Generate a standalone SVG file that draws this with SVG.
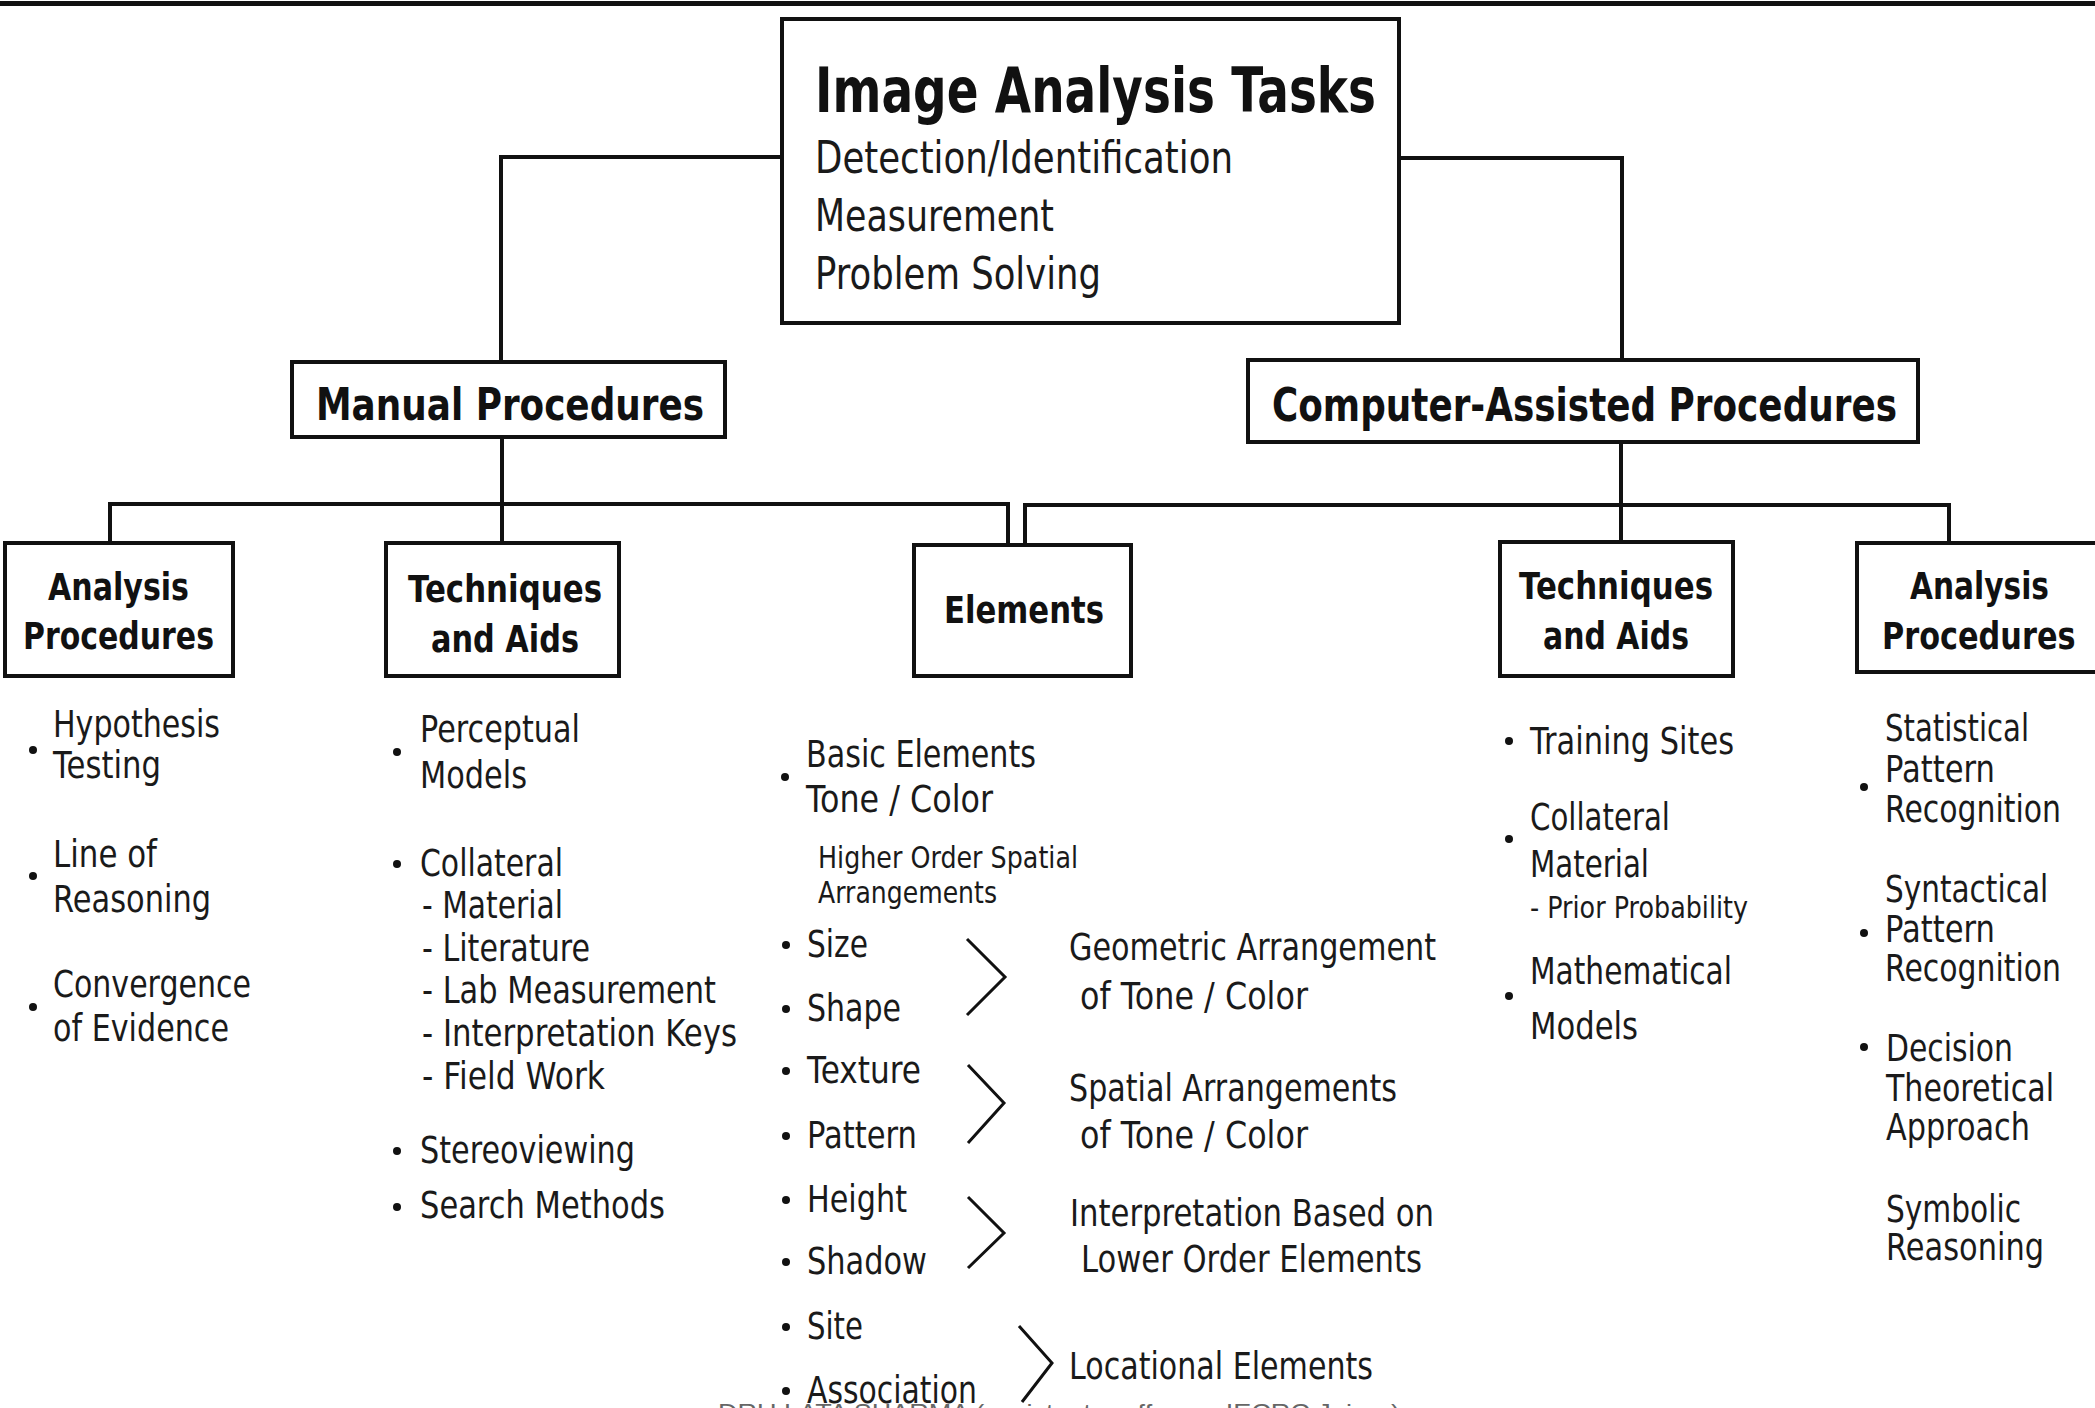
<svg xmlns="http://www.w3.org/2000/svg" width="2095" height="1408" viewBox="0 0 2095 1408">
<style>
.box{fill:#fff;stroke:#111;stroke-width:4}
.ln{fill:none;stroke:#111;stroke-width:4}
.br{fill:none;stroke:#111;stroke-width:3}
.b{font-family:"DejaVu Sans","Liberation Sans",sans-serif;font-weight:bold;fill:#111}
.t{font-family:"DejaVu Sans","Liberation Sans",sans-serif;fill:#1a1a1a}
.dot{fill:#111}
.ft{font-family:"Liberation Sans",Arial,sans-serif;fill:#666;font-size:24px}
</style>
<rect width="2095" height="1408" fill="#fff"/>
<rect x="0" y="1" width="2095" height="5" fill="#111"/>

<g id="connectors">
<polyline class="ln" points="780,157 501,157 501,360"/>
<polyline class="ln" points="1401,158 1622,158 1622,358"/>
<line class="ln" x1="502" y1="439" x2="502" y2="541"/>
<polyline class="ln" points="110,541 110,504 1008,504 1008,543"/>
<line class="ln" x1="1621" y1="444" x2="1621" y2="540"/>
<polyline class="ln" points="1025,543 1025,505 1949,505 1949,543"/>
</g>

<g id="top">
<rect class="box" x="782" y="19" width="617" height="304"/>
<text class="b" x="815" y="112" font-size="62" textLength="561" lengthAdjust="spacingAndGlyphs">Image Analysis Tasks</text>
<text class="t" x="815" y="173" font-size="44" textLength="418" lengthAdjust="spacingAndGlyphs">Detection/Identification</text>
<text class="t" x="815" y="231" font-size="44" textLength="239" lengthAdjust="spacingAndGlyphs">Measurement</text>
<text class="t" x="815" y="289" font-size="44" textLength="286" lengthAdjust="spacingAndGlyphs">Problem Solving</text>
</g>

<g id="manual">
<rect class="box" x="292" y="362" width="433" height="75"/>
<text class="b" x="316" y="420" font-size="45" textLength="388" lengthAdjust="spacingAndGlyphs">Manual Procedures</text>
</g>

<g id="computer">
<rect class="box" x="1248" y="360" width="670" height="82"/>
<text class="b" x="1272" y="421" font-size="46" textLength="625" lengthAdjust="spacingAndGlyphs">Computer-Assisted Procedures</text>
</g>

<g id="m-analysis">
<rect class="box" x="5" y="543" width="228" height="133"/>
<text class="b" x="48" y="600" font-size="37" textLength="141" lengthAdjust="spacingAndGlyphs">Analysis</text>
<text class="b" x="23" y="649" font-size="37" textLength="191" lengthAdjust="spacingAndGlyphs">Procedures</text>
<circle class="dot" cx="33" cy="750" r="4"/>
<text class="t" x="53" y="737" font-size="37" textLength="167" lengthAdjust="spacingAndGlyphs">Hypothesis</text>
<text class="t" x="53" y="778" font-size="37" textLength="108" lengthAdjust="spacingAndGlyphs">Testing</text>
<circle class="dot" cx="33" cy="876" r="4"/>
<text class="t" x="53" y="867" font-size="37" textLength="104" lengthAdjust="spacingAndGlyphs">Line of</text>
<text class="t" x="53" y="912" font-size="37" textLength="158" lengthAdjust="spacingAndGlyphs">Reasoning</text>
<circle class="dot" cx="33" cy="1007" r="4"/>
<text class="t" x="53" y="997" font-size="37" textLength="198" lengthAdjust="spacingAndGlyphs">Convergence</text>
<text class="t" x="53" y="1041" font-size="37" textLength="176" lengthAdjust="spacingAndGlyphs">of Evidence</text>
</g>

<g id="m-techniques">
<rect class="box" x="386" y="543" width="233" height="133"/>
<text class="b" x="408" y="602" font-size="37" textLength="194" lengthAdjust="spacingAndGlyphs">Techniques</text>
<text class="b" x="431" y="652" font-size="37" textLength="148" lengthAdjust="spacingAndGlyphs">and Aids</text>
<circle class="dot" cx="397" cy="752" r="4"/>
<text class="t" x="420" y="742" font-size="37" textLength="160" lengthAdjust="spacingAndGlyphs">Perceptual</text>
<text class="t" x="420" y="788" font-size="37" textLength="107" lengthAdjust="spacingAndGlyphs">Models</text>
<circle class="dot" cx="397" cy="864" r="4"/>
<text class="t" x="420" y="876" font-size="37" textLength="143" lengthAdjust="spacingAndGlyphs">Collateral</text>
<text class="t" x="422" y="918" font-size="37" textLength="141" lengthAdjust="spacingAndGlyphs">- Material</text>
<text class="t" x="422" y="961" font-size="37" textLength="168" lengthAdjust="spacingAndGlyphs">- Literature</text>
<text class="t" x="422" y="1003" font-size="37" textLength="294" lengthAdjust="spacingAndGlyphs">- Lab Measurement</text>
<text class="t" x="422" y="1046" font-size="37" textLength="315" lengthAdjust="spacingAndGlyphs">- Interpretation Keys</text>
<text class="t" x="422" y="1089" font-size="37" textLength="183" lengthAdjust="spacingAndGlyphs">- Field Work</text>
<circle class="dot" cx="397" cy="1151" r="4"/>
<text class="t" x="420" y="1163" font-size="37" textLength="215" lengthAdjust="spacingAndGlyphs">Stereoviewing</text>
<circle class="dot" cx="397" cy="1207" r="4"/>
<text class="t" x="420" y="1218" font-size="37" textLength="245" lengthAdjust="spacingAndGlyphs">Search Methods</text>
</g>

<g id="elements">
<rect class="box" x="914" y="545" width="217" height="131"/>
<text class="b" x="944" y="623" font-size="37" textLength="160" lengthAdjust="spacingAndGlyphs">Elements</text>
<circle class="dot" cx="785" cy="777" r="4"/>
<text class="t" x="806" y="767" font-size="37" textLength="230" lengthAdjust="spacingAndGlyphs">Basic Elements</text>
<text class="t" x="806" y="812" font-size="37" textLength="187" lengthAdjust="spacingAndGlyphs">Tone / Color</text>
<text class="t" x="818" y="868" font-size="31" textLength="260" lengthAdjust="spacingAndGlyphs">Higher Order Spatial</text>
<text class="t" x="818" y="903" font-size="31" textLength="179" lengthAdjust="spacingAndGlyphs">Arrangements</text>
<circle class="dot" cx="786" cy="945" r="4"/>
<text class="t" x="807" y="957" font-size="37" textLength="61" lengthAdjust="spacingAndGlyphs">Size</text>
<circle class="dot" cx="786" cy="1009" r="4"/>
<text class="t" x="807" y="1021" font-size="37" textLength="94" lengthAdjust="spacingAndGlyphs">Shape</text>
<circle class="dot" cx="786" cy="1071" r="4"/>
<text class="t" x="807" y="1083" font-size="37" textLength="114" lengthAdjust="spacingAndGlyphs">Texture</text>
<circle class="dot" cx="786" cy="1136" r="4"/>
<text class="t" x="807" y="1148" font-size="37" textLength="110" lengthAdjust="spacingAndGlyphs">Pattern</text>
<circle class="dot" cx="786" cy="1200" r="4"/>
<text class="t" x="807" y="1212" font-size="37" textLength="100" lengthAdjust="spacingAndGlyphs">Height</text>
<circle class="dot" cx="786" cy="1262" r="4"/>
<text class="t" x="807" y="1274" font-size="37" textLength="120" lengthAdjust="spacingAndGlyphs">Shadow</text>
<circle class="dot" cx="786" cy="1327" r="4"/>
<text class="t" x="807" y="1339" font-size="37" textLength="56" lengthAdjust="spacingAndGlyphs">Site</text>
<circle class="dot" cx="786" cy="1391" r="4"/>
<text class="t" x="807" y="1403" font-size="37" textLength="170" lengthAdjust="spacingAndGlyphs">Association</text>
<polyline class="br" points="967,939 1005,977 967,1015"/>
<polyline class="br" points="968,1065 1004,1103 968,1143"/>
<polyline class="br" points="968,1197 1004,1233 968,1268"/>
<polyline class="br" points="1019,1326 1052,1363 1022,1402"/>
<text class="t" x="1069" y="960" font-size="37" textLength="367" lengthAdjust="spacingAndGlyphs">Geometric Arrangement</text>
<text class="t" x="1080" y="1009" font-size="37" textLength="228" lengthAdjust="spacingAndGlyphs">of Tone / Color</text>
<text class="t" x="1069" y="1101" font-size="37" textLength="328" lengthAdjust="spacingAndGlyphs">Spatial Arrangements</text>
<text class="t" x="1080" y="1148" font-size="37" textLength="228" lengthAdjust="spacingAndGlyphs">of Tone / Color</text>
<text class="t" x="1070" y="1226" font-size="37" textLength="364" lengthAdjust="spacingAndGlyphs">Interpretation Based on</text>
<text class="t" x="1081" y="1272" font-size="37" textLength="341" lengthAdjust="spacingAndGlyphs">Lower Order Elements</text>
<text class="t" x="1069" y="1379" font-size="37" textLength="304" lengthAdjust="spacingAndGlyphs">Locational Elements</text>
</g>

<g id="c-techniques">
<rect class="box" x="1500" y="542" width="233" height="134"/>
<text class="b" x="1519" y="599" font-size="37" textLength="194" lengthAdjust="spacingAndGlyphs">Techniques</text>
<text class="b" x="1543" y="649" font-size="37" textLength="146" lengthAdjust="spacingAndGlyphs">and Aids</text>
<circle class="dot" cx="1509" cy="741" r="4"/>
<text class="t" x="1530" y="754" font-size="37" textLength="204" lengthAdjust="spacingAndGlyphs">Training Sites</text>
<circle class="dot" cx="1509" cy="839" r="4"/>
<text class="t" x="1530" y="830" font-size="37" textLength="140" lengthAdjust="spacingAndGlyphs">Collateral</text>
<text class="t" x="1530" y="877" font-size="37" textLength="119" lengthAdjust="spacingAndGlyphs">Material</text>
<text class="t" x="1530" y="918" font-size="31" textLength="218" lengthAdjust="spacingAndGlyphs">- Prior Probability</text>
<circle class="dot" cx="1509" cy="996" r="4"/>
<text class="t" x="1530" y="984" font-size="37" textLength="202" lengthAdjust="spacingAndGlyphs">Mathematical</text>
<text class="t" x="1530" y="1039" font-size="37" textLength="108" lengthAdjust="spacingAndGlyphs">Models</text>
</g>

<g id="c-analysis">
<rect class="box" x="1857" y="543" width="250" height="129"/>
<text class="b" x="1910" y="599" font-size="37" textLength="139" lengthAdjust="spacingAndGlyphs">Analysis</text>
<text class="b" transform="translate(1882,649) scale(0.82,1)" x="0" y="0" font-size="37" textLength="236" lengthAdjust="spacingAndGlyphs">Procedures</text>
<circle class="dot" cx="1864" cy="787" r="4"/>
<text class="t" x="1885" y="741" font-size="37" textLength="144" lengthAdjust="spacingAndGlyphs">Statistical</text>
<text class="t" x="1885" y="782" font-size="37" textLength="110" lengthAdjust="spacingAndGlyphs">Pattern</text>
<text class="t" transform="translate(1885,822) scale(0.8,1)" x="0" y="0" font-size="37" textLength="220" lengthAdjust="spacingAndGlyphs">Recognition</text>
<circle class="dot" cx="1864" cy="933" r="4"/>
<text class="t" transform="translate(1885,902) scale(0.8,1)" x="0" y="0" font-size="37" textLength="204" lengthAdjust="spacingAndGlyphs">Syntactical</text>
<text class="t" x="1885" y="942" font-size="37" textLength="110" lengthAdjust="spacingAndGlyphs">Pattern</text>
<text class="t" transform="translate(1885,981) scale(0.8,1)" x="0" y="0" font-size="37" textLength="220" lengthAdjust="spacingAndGlyphs">Recognition</text>
<circle class="dot" cx="1864" cy="1047" r="4"/>
<text class="t" x="1886" y="1061" font-size="37" textLength="127" lengthAdjust="spacingAndGlyphs">Decision</text>
<text class="t" transform="translate(1886,1101) scale(0.8,1)" x="0" y="0" font-size="37" textLength="210" lengthAdjust="spacingAndGlyphs">Theoretical</text>
<text class="t" x="1886" y="1140" font-size="37" textLength="144" lengthAdjust="spacingAndGlyphs">Approach</text>
<text class="t" x="1886" y="1222" font-size="37" textLength="135" lengthAdjust="spacingAndGlyphs">Symbolic</text>
<text class="t" x="1886" y="1260" font-size="37" textLength="158" lengthAdjust="spacingAndGlyphs">Reasoning</text>
</g>

<text class="ft" x="718" y="1421" textLength="682" lengthAdjust="spacingAndGlyphs">DRU LATA SHARMA (assistant proffessor IECRC Jaipur)</text>
</svg>
